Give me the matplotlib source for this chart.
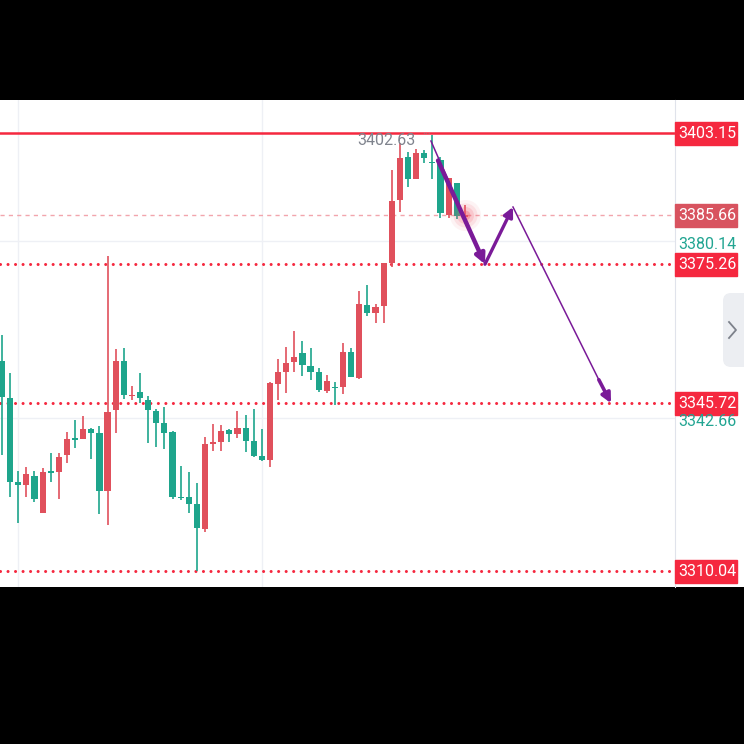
import numpy as np
import matplotlib
matplotlib.use("Agg")
import matplotlib.pyplot as plt
from matplotlib.patches import Rectangle, FancyBboxPatch
from matplotlib.lines import Line2D

plt.rcParams["font.family"] = ["Roboto", "DejaVu Sans"]

# candle data, oldest first
opens = [3354.75, 3346.75, 3328.90, 3328.32, 3330.30, 3322.43, 3331.36, 3331.15, 3334.70, 3338.25,
         3338.10, 3340.16, 3339.31, 3327.05, 3344.27, 3354.68, 3347.24, 3348.03, 3346.39, 3344.05,
         3341.44, 3339.65, 3325.84, 3325.84, 3324.22, 3318.90, 3337.04, 3337.53, 3340.01, 3339.16,
         3340.37, 3337.74, 3334.55, 3333.64, 3349.79, 3352.41, 3354.53, 3356.32, 3353.62, 3352.34,
         3348.37, 3349.09, 3349.22, 3356.66, 3351.00, 3366.69, 3364.95, 3366.37, 3375.58, 3388.91,
         3398.05, 3393.27, 3398.90, 3396.99, 3397.41, 3385.82, 3392.52, 3385.40]
closes = [3346.97, 3329.02, 3328.32, 3330.60, 3325.28, 3331.09, 3330.94, 3334.21, 3338.04, 3337.89,
          3340.16, 3339.44, 3327.05, 3343.78, 3354.68, 3347.45, 3347.45, 3346.75, 3344.27, 3341.57,
          3339.44, 3325.77, 3325.56, 3324.28, 3319.24, 3336.97, 3337.53, 3339.86, 3339.10, 3340.37,
          3337.74, 3334.49, 3333.64, 3349.94, 3352.41, 3354.19, 3355.47, 3353.83, 3352.41, 3348.52,
          3350.49, 3348.88, 3356.66, 3351.34, 3366.80, 3364.95, 3366.10, 3375.58, 3388.76, 3397.77,
          3393.37, 3398.90, 3397.77, 3396.71, 3386.14, 3393.52, 3385.51, 3385.66]
highs = [3360.21, 3352.13, 3331.36, 3332.21, 3331.36, 3332.00, 3335.06, 3335.19, 3339.65, 3342.14,
         3343.05, 3340.44, 3340.93, 3377.00, 3357.17, 3357.38, 3349.37, 3352.07, 3347.31, 3344.41,
         3344.97, 3339.80, 3332.42, 3331.15, 3328.68, 3338.59, 3341.29, 3341.08, 3340.16, 3344.12,
         3343.20, 3344.41, 3340.16, 3350.28, 3355.04, 3357.59, 3361.12, 3359.00, 3357.38, 3353.13,
         3351.71, 3350.28, 3358.44, 3357.38, 3369.63, 3370.84, 3366.80, 3375.58, 3395.28, 3401.09,
         3399.17, 3399.68, 3399.54, 3402.63, 3397.98, 3393.52, 3392.52, 3387.84]
lows = [3334.70, 3325.84, 3320.31, 3325.84, 3324.77, 3322.43, 3329.02, 3325.28, 3332.94, 3336.12,
        3338.10, 3333.79, 3322.09, 3319.82, 3339.44, 3346.60, 3346.39, 3345.69, 3337.31, 3336.46,
        3335.91, 3325.35, 3325.13, 3322.43, 3310.04, 3318.39, 3335.61, 3335.61, 3337.53, 3338.25,
        3335.40, 3334.34, 3333.49, 3332.08, 3346.39, 3347.94, 3352.41, 3351.49, 3350.64, 3348.16,
        3347.82, 3345.40, 3347.67, 3351.34, 3350.79, 3364.25, 3362.82, 3362.82, 3374.60, 3386.42,
        3391.61, 3393.27, 3396.71, 3393.37, 3385.02, 3385.08, 3384.80, 3385.08]
assert len(opens) == len(closes) == len(highs) == len(lows)

last_price = 3385.66
high_mark = 3402.63
high_mark_idx = 53
resistance = 3403.15
levels = [3375.26, 3345.72, 3310.04]
scale_labels = [3380.14, 3342.66]
grid_x = [2, 32]

# projected path: (bar index, price)
path_down = [(52.83, 3401.45), (53.7, 3397.3), (59.48, 3375.26)]
path_up = [(59.48, 3375.26), (62.93, 3387.42)]
path_target = [(62.93, 3387.42), (73.5, 3350.7), (75.0, 3345.72)]

UP = "#e0505c"
DOWN = "#1ea58c"
LEVEL = "#f5283f"
PURPLE = "#7a1a98"

fig = plt.figure(figsize=(7.44, 7.44), dpi=100, facecolor="black")
bottom, height = 157 / 744, 487 / 744
ax = fig.add_axes([0, bottom, 675 / 744, height])
axr = fig.add_axes([675 / 744, bottom, 69 / 744, height], sharey=ax)

ylo, yhi = 3306.64, 3410.17
ax.set_ylim(ylo, yhi)
ax.set_xlim(-0.246, -0.246 + 675 / 8.12)
for a in (ax, axr):
    a.set_facecolor("white")
    a.set_xticks([])
    a.tick_params(left=False, right=False, labelleft=False, labelright=False)
    for s in a.spines.values():
        s.set_visible(False)
axr.spines["left"].set_visible(True)
axr.spines["left"].set_color("#e0e3eb")
axr.set_xlim(0, 69)

# grid
for gx in grid_x:
    ax.axvline(gx, color="#eef0f5", lw=1, zorder=0)
for gy in scale_labels:
    ax.axhline(gy, color="#eef0f5", lw=1, zorder=0)

# candles
x = np.arange(len(opens))
o = np.array(opens)
c = np.array(closes)
colors = [UP if cc >= oo else DOWN for oo, cc in zip(o, c)]
ax.vlines(x, lows, highs, colors=colors, lw=1.2, zorder=3)
body = np.maximum(np.abs(c - o), 0.3)
ax.bar(x, body, bottom=np.minimum(o, c), width=0.76, color=colors, zorder=4, linewidth=0)

# horizontal levels
ax.axhline(resistance, color=LEVEL, lw=1.8, zorder=2)
ax.axhline(last_price, color="#f2a5ad", lw=1, ls=(0, (3, 3)), zorder=2)
for lv in levels:
    ax.axhline(lv, color=LEVEL, lw=2.2, ls=(0, (0.01, 2.45)),
               dash_capstyle="round", zorder=2)

# high marker
ax.annotate(f"{high_mark:.2f}", (high_mark_idx, high_mark), xytext=(-12, -3.5),
            textcoords="offset points", ha="right", va="center",
            color="#7f838d", fontsize=11.5, zorder=6)
ax.annotate("···", (high_mark_idx, high_mark), xytext=(-1, 1),
            textcoords="offset points", ha="right", va="center",
            color="#7f838d", fontsize=8, zorder=6)

# current price glow
for s, a in [(500, 0.07), (300, 0.12), (150, 0.18), (50, 0.35)]:
    ax.scatter(len(opens) - 1, last_price, s=s, color="#f05a6a", alpha=a,
               linewidths=0, zorder=5)

# projected path
px, py = zip(*path_down)
ax.plot([px[0], px[2]], [py[0], py[2]], color=PURPLE, lw=1.1, zorder=7)
ax.annotate("", xy=path_down[2], xytext=path_down[1],
            arrowprops=dict(arrowstyle="-|>", color=PURPLE, lw=3.2,
                            mutation_scale=14, shrinkA=0, shrinkB=0), zorder=7)
ax.annotate("", xy=path_up[1], xytext=path_up[0],
            arrowprops=dict(arrowstyle="-|>", color=PURPLE, lw=2.4,
                            mutation_scale=14, shrinkA=0, shrinkB=0), zorder=7)
tx, ty = zip(*path_target)
ax.plot([tx[0], tx[1]], [ty[0], ty[1]], color=PURPLE, lw=1.1, zorder=7)
ax.annotate("", xy=path_target[2], xytext=path_target[1],
            arrowprops=dict(arrowstyle="-|>", color=PURPLE, lw=2.6,
                            mutation_scale=14, shrinkA=0, shrinkB=0), zorder=7)

# price scale labels
box_h = 23 * (yhi - ylo) / 487
boxes = [(resistance, LEVEL), (last_price, "#d8535f")] + [(lv, LEVEL) for lv in levels]
for price, col in boxes:
    axr.add_patch(Rectangle((0, price - box_h / 2), 62, box_h, color=col,
                            zorder=3, clip_on=False))
    axr.text(32, price, f"{price:.2f}", color="white", fontsize=11.5,
             ha="center", va="center", zorder=4)
for price in scale_labels:
    axr.annotate(f"{price:.2f}", (32, price), xytext=(0, -2.5),
                 textcoords="offset points", color="#22a592", fontsize=11.5,
                 ha="center", va="center")

# collapse button on the right edge
fig.add_artist(FancyBboxPatch((7.23, 3.77), 0.4, 0.74, transform=fig.dpi_scale_trans,
                              boxstyle="round,pad=0,rounding_size=0.08",
                              facecolor="#eceef2", edgecolor="none"))
fig.add_artist(Line2D([7.29, 7.36, 7.29], [4.22, 4.14, 4.06],
                      transform=fig.dpi_scale_trans, color="#7d818b", lw=1.3))

fig.savefig("out.png", dpi=100, facecolor="black")
